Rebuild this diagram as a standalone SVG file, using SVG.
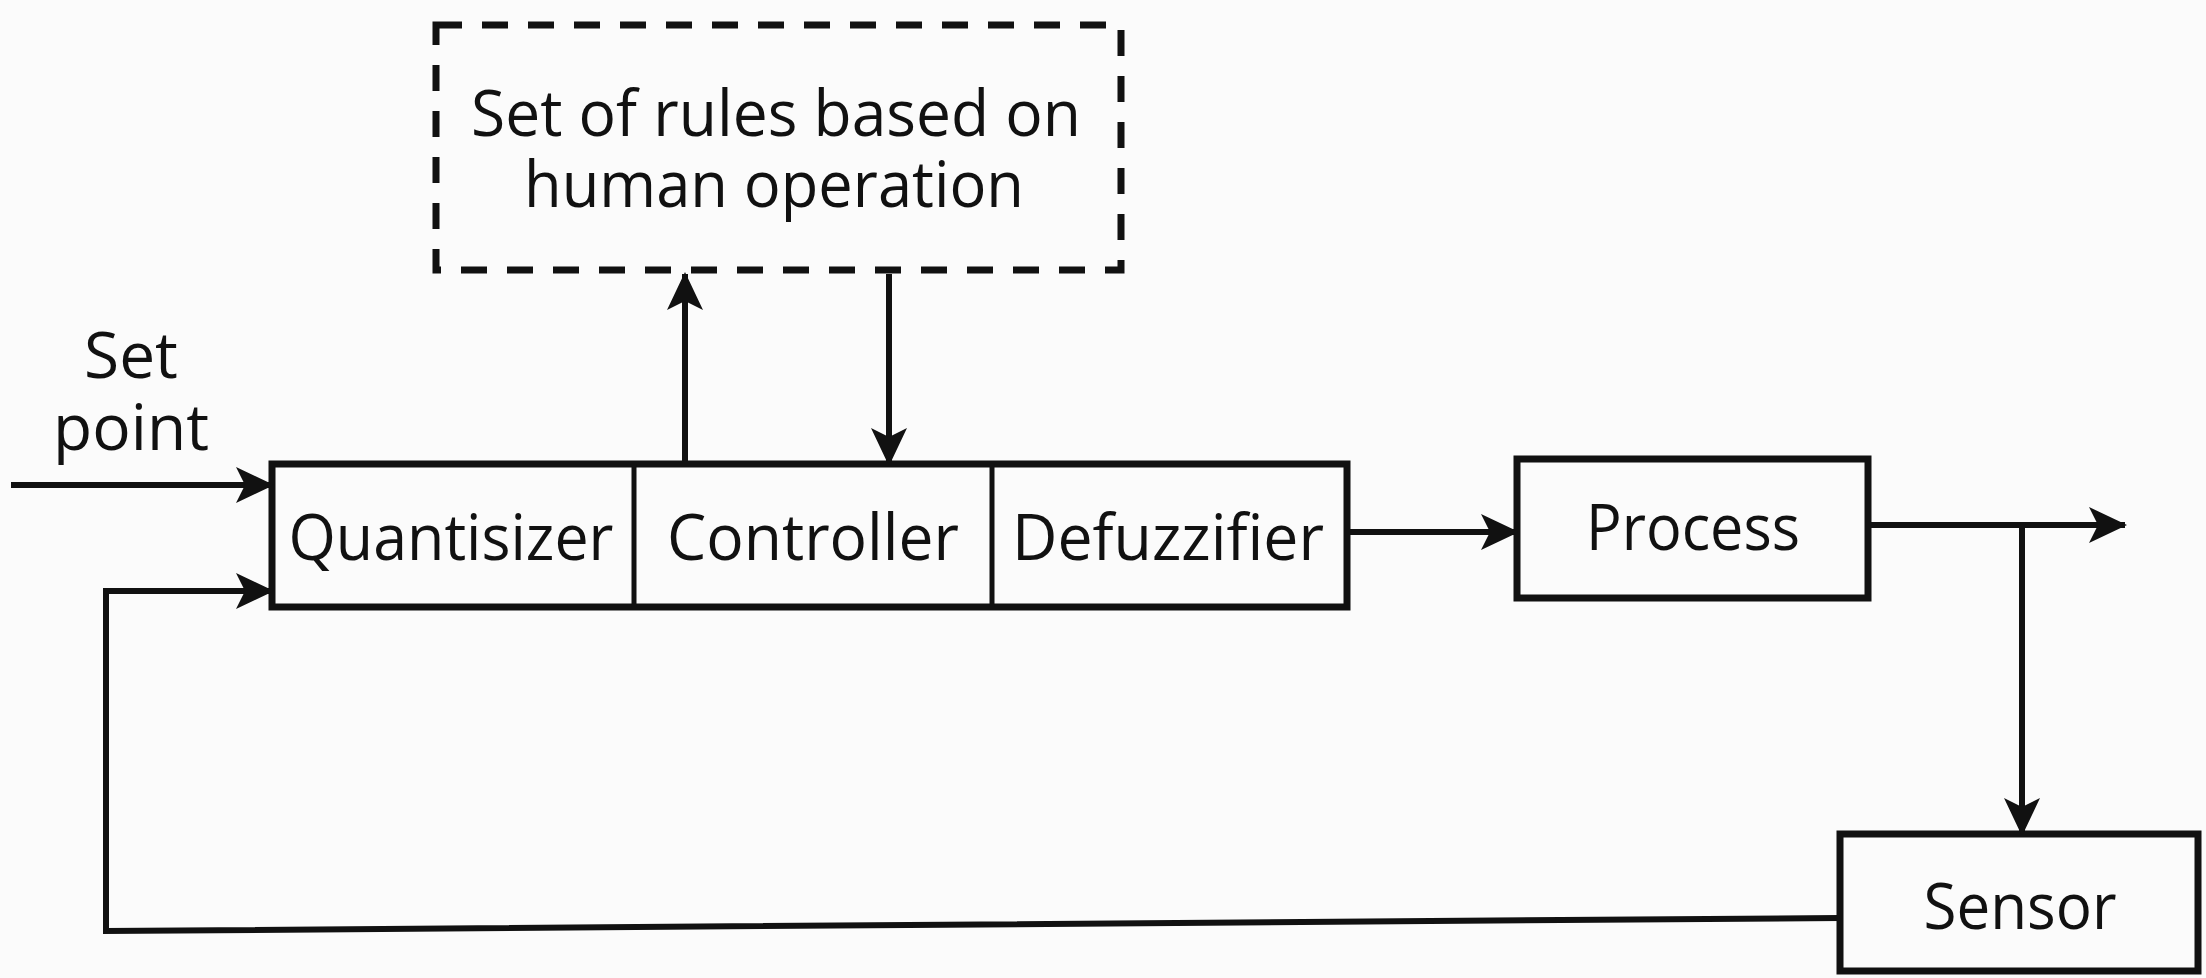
<svg xmlns="http://www.w3.org/2000/svg" width="2206" height="978" viewBox="0 0 2206 978">
<style>
.box{fill:none;stroke:#111;stroke-width:7}
.div{stroke:#111;stroke-width:5}
.dash{fill:none;stroke:#111;stroke-width:7;stroke-dasharray:26 20}
.ln{fill:none;stroke:#111;stroke-width:6}
.t{font-family:"Open Sans","Noto Sans",sans-serif;font-size:64px;fill:#111;text-anchor:middle}
</style>
<defs>
<marker id="ah" viewBox="0 0 38 36" markerWidth="38" markerHeight="36" refX="36" refY="18" orient="auto" markerUnits="userSpaceOnUse">
<path d="M0,0 L38,18 L0,36 L9,18 z" fill="#111"/>
</marker>
</defs>
<rect width="2206" height="978" fill="#fbfbfb"/>
<g id="rules">
<rect class="dash" x="436" y="25" width="685" height="245"/>
<text class="t"><tspan x="776" y="136" textLength="610" lengthAdjust="spacingAndGlyphs">Set of rules based on</tspan><tspan x="774" y="207" textLength="500" lengthAdjust="spacingAndGlyphs">human operation</tspan></text>
</g>
<g id="controller-block">
<rect class="box" x="272" y="464" width="1075" height="143"/>
<line class="div" x1="634" y1="464" x2="634" y2="607"/>
<line class="div" x1="992" y1="464" x2="992" y2="607"/>
<text class="t" x="451" y="560" textLength="325" lengthAdjust="spacingAndGlyphs">Quantisizer</text>
<text class="t" x="813" y="560" textLength="292" lengthAdjust="spacingAndGlyphs">Controller</text>
<text class="t" x="1168" y="560" textLength="312" lengthAdjust="spacingAndGlyphs">Defuzzifier</text>
</g>
<g id="process">
<rect class="box" x="1517" y="459" width="351" height="139"/>
<text class="t" x="1693" y="550" textLength="214" lengthAdjust="spacingAndGlyphs">Process</text>
</g>
<g id="sensor">
<rect class="box" x="1840" y="834" width="358" height="137"/>
<text class="t" x="2020" y="929" textLength="193" lengthAdjust="spacingAndGlyphs">Sensor</text>
</g>
<g id="setpoint-label">
<text class="t"><tspan x="131" y="378">Set</tspan><tspan x="131" y="450">point</tspan></text>
</g>
<g id="connectors">
<line class="ln" x1="11" y1="485" x2="272" y2="485" marker-end="url(#ah)"/>
<polyline class="ln" points="1840,918 106,931 106,591 272,591" marker-end="url(#ah)"/>
<line class="ln" x1="685" y1="464" x2="685" y2="274" marker-end="url(#ah)"/>
<line class="ln" x1="889" y1="274" x2="889" y2="464" marker-end="url(#ah)"/>
<line class="ln" x1="1347" y1="532" x2="1517" y2="532" marker-end="url(#ah)"/>
<line class="ln" x1="1868" y1="525" x2="2125" y2="525" marker-end="url(#ah)"/>
<line class="ln" x1="2022" y1="525" x2="2022" y2="834" marker-end="url(#ah)"/>
</g>
</svg>
